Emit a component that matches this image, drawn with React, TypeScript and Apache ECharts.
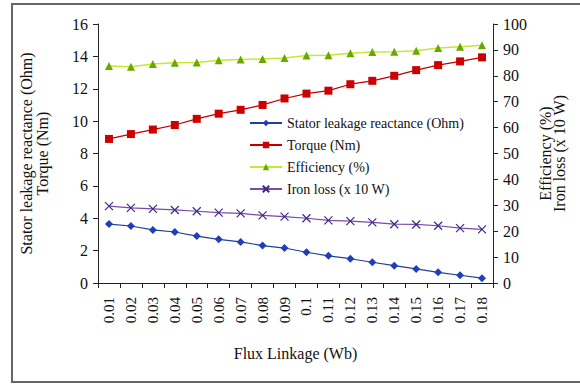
import React, { useEffect, useRef } from "react";
import * as echarts from "echarts";

const categories = ["0.01","0.02","0.03","0.04","0.05","0.06","0.07","0.08","0.09","0.1","0.11","0.12","0.13","0.14","0.15","0.16","0.17","0.18"];
const statorReactance = [3.64, 3.52, 3.28, 3.15, 2.9, 2.7, 2.54, 2.31, 2.16, 1.9, 1.68, 1.5, 1.28, 1.07, 0.87, 0.66, 0.48, 0.3];
const torque = [8.9, 9.2, 9.48, 9.76, 10.14, 10.46, 10.7, 11.0, 11.4, 11.7, 11.88, 12.28, 12.49, 12.8, 13.15, 13.46, 13.69, 13.94];
const efficiency = [83.8, 83.5, 84.6, 85.0, 85.1, 86.0, 86.3, 86.5, 86.9, 87.8, 87.9, 88.7, 89.2, 89.3, 89.7, 90.7, 91.2, 91.8];
const ironLoss = [29.7, 29.0, 28.6, 28.2, 27.7, 27.2, 26.9, 26.1, 25.6, 25.0, 24.2, 23.9, 23.4, 22.7, 22.6, 22.1, 21.2, 20.7];

const FONT = "'Liberation Serif', 'Times New Roman', serif";

export default function App() {
  const ref = useRef<HTMLDivElement>(null);
  useEffect(() => {
    document.body.style.margin = "0";
    const chart = echarts.init(ref.current!, null, { renderer: "svg" });
    const axisLine = { show: true, lineStyle: { color: "#222", width: 1 } };
    chart.setOption({
      animation: false,
      backgroundColor: "#fff",
      textStyle: { fontFamily: FONT },
      grid: { left: 98, right: 87, top: 24, bottom: 102 },
      graphic: [
        {
          type: "rect",
          shape: { x: 12, y: 4, width: 580, height: 378 },
          style: { fill: "none", stroke: "#666", lineWidth: 2 },
          silent: true,
        },
      ],
      legend: {
        orient: "vertical",
        left: 244,
        top: 111,
        itemWidth: 32,
        itemHeight: 8,
        itemGap: 8,
        textStyle: { fontFamily: FONT, fontSize: 14, color: "#111" },
        data: ["Stator leakage reactance (Ohm)", "Torque (Nm)", "Efficiency (%)", "Iron loss (x 10 W)"],
      },
      xAxis: {
        type: "category",
        data: categories,
        boundaryGap: true,
        axisLine,
        axisTick: { show: true, length: 5, lineStyle: { color: "#222" } },
        axisLabel: { rotate: 90, fontSize: 15, color: "#111", margin: 14, fontFamily: FONT, interval: 0 },
        name: "Flux Linkage (Wb)",
        nameLocation: "middle",
        nameGap: 62,
        nameTextStyle: { fontSize: 16, color: "#111", fontFamily: FONT },
      },
      yAxis: [
        {
          type: "value",
          min: 0,
          max: 16,
          interval: 2,
          axisLine,
          axisTick: { show: true, length: 5, lineStyle: { color: "#222" } },
          splitLine: { show: false },
          axisLabel: { fontSize: 16, color: "#111", margin: 10, fontFamily: FONT },
          name: "Stator leakage reactance (Ohm)\nTorque (Nm)",
          nameLocation: "middle",
          nameRotate: 90,
          nameGap: 48,
          nameTextStyle: { fontSize: 16, color: "#111", fontFamily: FONT, lineHeight: 16 },
        },
        {
          type: "value",
          position: "right",
          min: 0,
          max: 100,
          interval: 10,
          axisLine,
          axisTick: { show: true, length: 5, lineStyle: { color: "#222" } },
          splitLine: { show: false },
          axisLabel: { fontSize: 16, color: "#111", margin: 10, fontFamily: FONT },
          name: "Efficiency (%)\nIron loss (x 10 W)",
          nameLocation: "middle",
          nameRotate: 90,
          nameGap: 41,
          nameTextStyle: { fontSize: 16, color: "#111", fontFamily: FONT, lineHeight: 14 },
        },
      ],
      series: [
        {
          name: "Stator leakage reactance (Ohm)",
          type: "line",
          yAxisIndex: 0,
          data: statorReactance,
          symbol: "diamond",
          symbolSize: 8,
          itemStyle: { color: "#1f3fb8" },
          lineStyle: { color: "#1f3f9f", width: 1.2 },
        },
        {
          name: "Torque (Nm)",
          type: "line",
          yAxisIndex: 0,
          data: torque,
          symbol: "rect",
          symbolSize: 8,
          itemStyle: { color: "#cc0000" },
          lineStyle: { color: "#c00000", width: 1.2 },
        },
        {
          name: "Efficiency (%)",
          type: "line",
          yAxisIndex: 1,
          data: efficiency,
          symbol: "triangle",
          symbolSize: 8,
          itemStyle: { color: "#66aa00" },
          lineStyle: { color: "#c8e830", width: 1.5 },
        },
        {
          name: "Iron loss (x 10 W)",
          type: "line",
          yAxisIndex: 1,
          data: ironLoss,
          symbol: "path://M0,0L10,10M10,0L0,10",
          symbolSize: 8,
          itemStyle: { color: "rgba(0,0,0,0)", borderColor: "#3a2a8a", borderWidth: 1.2 },
          lineStyle: { color: "#7a4aa8", width: 1.2 },
        },
      ],
    });
    return () => chart.dispose();
  }, []);
  return <div ref={ref} style={{ width: 580, height: 385, position: "absolute", left: 0, top: 0 }} />;
}
